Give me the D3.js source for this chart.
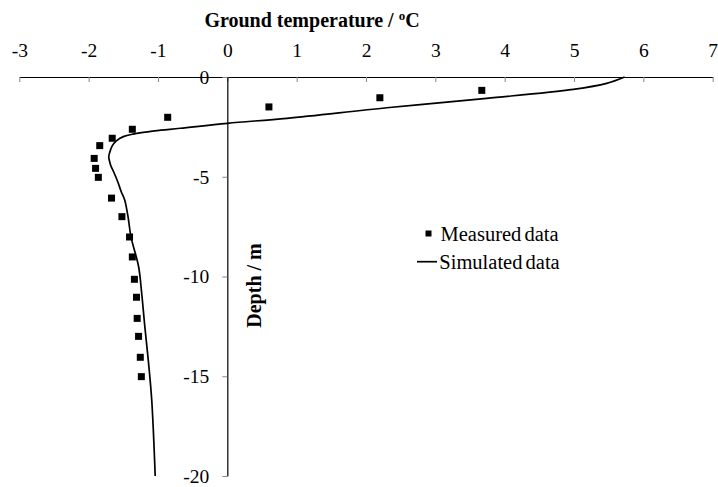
<!DOCTYPE html>
<html>
<head>
<meta charset="utf-8">
<script src="https://cdn.jsdelivr.net/npm/d3@7.9.0/dist/d3.min.js"></script>
<style>
  body { margin: 0; background: #fff; }
  svg { display: block; font-family: "Liberation Serif", "Times New Roman", serif; }
</style>
</head>
<body>
<svg id="chart" width="718" height="487"></svg>
<script>
// measured points (temperature in °C, depth in m)
const measuredTemp = [3.67, 2.2, 0.6, -0.86, -1.37, -1.66, -1.84, -1.92, -1.9, -1.86,
  -1.67, -1.52, -1.41, -1.37, -1.34, -1.31, -1.3, -1.28, -1.255, -1.24];
const measuredDepth = [-0.67, -1.04, -1.5, -2.02, -2.62, -3.07, -3.44, -4.08, -4.58, -5.03,
  -6.07, -7.0, -8.02, -9.02, -10.14, -11.04, -12.1, -13.0, -14.05, -15.02];

// simulated profile
const simTemp = [5.73, 5.47, 4.99, 3.74, 2.3, 0.86, 0, -0.68, -1.05, -1.36, -1.5, -1.6,
  -1.66, -1.7, -1.71, -1.7, -1.68, -1.64, -1.58, -1.53, -1.48, -1.43, -1.39, -1.28,
  -1.235, -1.19, -1.14, -1.09, -1.04];
const simDepth = [0, -0.32, -0.62, -1.07, -1.54, -2.07, -2.32, -2.57, -2.7, -2.86, -2.99,
  -3.2, -3.45, -3.83, -4.0, -4.2, -4.45, -4.75, -5.25, -5.75, -6.17, -7.05, -8.0, -9.5,
  -10.84, -12.5, -14.19, -16.2, -20];

const xTicks = [-3, -2, -1, 0, 1, 2, 3, 4, 5, 6, 7];
const yTicks = [0, -5, -10, -15, -20];

const svg = d3.select("#chart");

const x = d3.scaleLinear().domain([-3, 7]).range([19.3, 712.7]);
const y = d3.scaleLinear().domain([0, -20]).range([77, 476]);

// top axis
const xAxis = svg.append("g")
  .attr("transform", `translate(0,${y(0)})`)
  .call(d3.axisTop(x).tickValues(xTicks).tickSize(-5).tickSizeOuter(0)
    .tickPadding(20).tickFormat((d) => String(d)));
xAxis.select(".domain").attr("stroke", "#000").attr("stroke-width", 1.2);
xAxis.selectAll(".tick line").attr("stroke", "#888");
xAxis.selectAll(".tick text").attr("font-size", 19.5).attr("fill", "#000")
  .attr("font-family", "Liberation Serif");

// left axis at x = 0
const yAxis = svg.append("g")
  .attr("transform", `translate(${x(0)},0)`)
  .call(d3.axisLeft(y).tickValues(yTicks).tickSize(5).tickSizeOuter(0)
    .tickPadding(13).tickFormat((d) => String(d)));
yAxis.select(".domain").attr("stroke", "#000").attr("stroke-width", 1.2);
yAxis.selectAll(".tick line").attr("stroke", "#888");
yAxis.selectAll(".tick text").attr("font-size", 19.5).attr("fill", "#000")
  .attr("font-family", "Liberation Serif");

// titles
const title = svg.append("text")
  .attr("x", 312).attr("y", 26.5)
  .attr("text-anchor", "middle")
  .attr("font-size", 20).attr("font-weight", "bold");
title.append("tspan").text("Ground temperature / ");
title.append("tspan").attr("font-size", 13).attr("dy", -7).text("o");
title.append("tspan").attr("dy", 7).text("C");

svg.append("text")
  .attr("transform", "translate(261,285.5) rotate(-90)")
  .attr("text-anchor", "middle")
  .attr("font-size", 20).attr("font-weight", "bold")
  .text("Depth / m");

// simulated line
const simData = simTemp.map((t, i) => ({ t, d: simDepth[i] }));
const line = d3.line()
  .x((d) => x(d.t))
  .y((d) => y(d.d))
  .curve(d3.curveCatmullRom.alpha(0.5));

svg.append("path")
  .datum(simData)
  .attr("d", line)
  .attr("fill", "none")
  .attr("stroke", "#000")
  .attr("stroke-width", 1.7);

// measured squares
const size = 7;
svg.append("g")
  .selectAll("rect")
  .data(measuredTemp.map((t, i) => ({ t, d: measuredDepth[i] })))
  .join("rect")
  .attr("x", (d) => x(d.t) - size / 2)
  .attr("y", (d) => y(d.d) - size / 2)
  .attr("width", size)
  .attr("height", size)
  .attr("fill", "#000");

// legend
const legend = svg.append("g").attr("font-size", 20.5);
legend.append("rect")
  .attr("x", 425.5).attr("y", 230.5).attr("width", 6).attr("height", 6)
  .attr("fill", "#000");
legend.append("text").attr("x", 440.5).attr("y", 240.7)
  .attr("word-spacing", -2).text("Measured data");
legend.append("line")
  .attr("x1", 417).attr("x2", 437).attr("y1", 261.7).attr("y2", 261.7)
  .attr("stroke", "#000").attr("stroke-width", 1.7);
legend.append("text").attr("x", 439.3).attr("y", 269)
  .attr("word-spacing", -2).text("Simulated data");
</script>
</body>
</html>
